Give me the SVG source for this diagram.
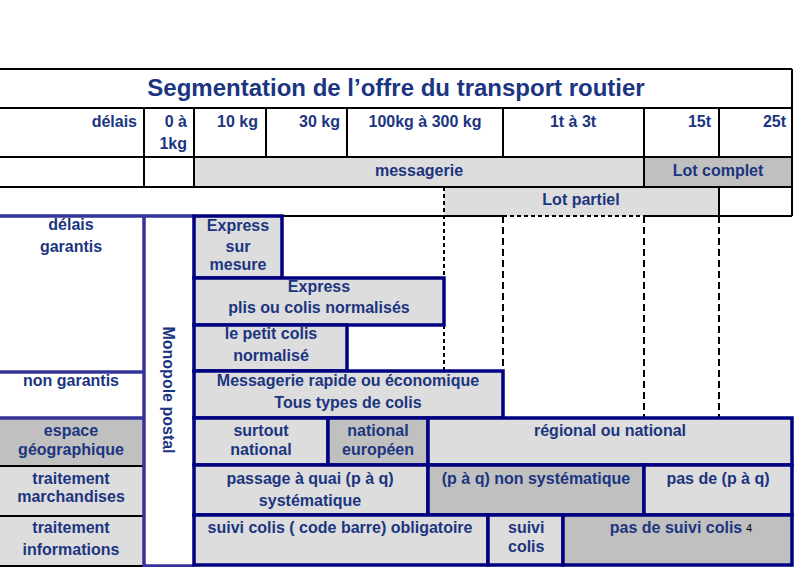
<svg xmlns="http://www.w3.org/2000/svg" width="794" height="567" viewBox="0 0 794 567">
<style>
.t{font-family:"Liberation Sans",Arial,sans-serif;font-weight:bold;font-size:16px;fill:#1B3580;text-anchor:middle}
.r{text-anchor:end}
.g1{fill:#DDDDDD}
.g2{fill:#C0C0C0}
.nb{stroke:#000080;stroke-width:3.5}
.bl{stroke:#000;stroke-width:2;fill:none}
.sb{stroke:#333399;stroke-width:3.5;fill:none}
.ds{stroke:#000;stroke-width:2;stroke-dasharray:7 4;fill:none}
.ds2{stroke:#000;stroke-width:2;stroke-dasharray:4 3;fill:none}
</style>
<rect width="794" height="567" fill="#fff"/>
<g id="header">
<rect class="g1" x="194" y="157" width="450" height="30"/>
<rect class="g2" x="644" y="157" width="148" height="30"/>
<rect class="g1" x="444" y="187" width="275" height="29"/>
<path class="bl" d="M0 69H792M0 108H792M0 157H792M0 187H792M282 216H503M644 216H792M792 69V216M719 187V216M144 108V187M194 108V187M266 108V157M347 108V157M503 108V157M644 108V187M719 108V157"/>
<text class="t" x="396" y="96" style="font-size:24px">Segmentation de l’offre du transport routier</text>
<text class="t r" x="137" y="127">délais</text>
<text class="t r" x="187" y="127">0 à</text>
<text class="t r" x="187" y="149">1kg</text>
<text class="t r" x="258" y="127">10 kg</text>
<text class="t r" x="340" y="127">30 kg</text>
<text class="t" x="425" y="127">100kg à 300 kg</text>
<text class="t" x="573" y="127">1t à 3t</text>
<text class="t r" x="711" y="127">15t</text>
<text class="t r" x="786" y="127">25t</text>
<text class="t" x="419" y="176">messagerie</text>
<text class="t" x="718" y="176">Lot complet</text>
<text class="t" x="581" y="205">Lot partiel</text>
</g>
<g id="connectors">
<path class="ds2" d="M444 187V278M444 325V371M503 216H644"/>
<path class="ds" d="M503 216V371M644 216V418M719 216V418"/>
</g>
<g id="left">
<rect class="g2" x="0" y="418" width="144" height="48"/>
<rect class="g1" x="0" y="466" width="144" height="100"/>
<path class="bl" d="M0 466H144M0 516H144M0 566H144"/>
<path class="sb" d="M0 216H194M0 372H144M0 418H144M144 216V567M144 566H194"/>
<text class="t" x="71" y="230">délais</text>
<text class="t" x="71" y="252">garantis</text>
<text class="t" x="71" y="386">non garantis</text>
<text class="t" x="71" y="436">espace</text>
<text class="t" x="71" y="455">géographique</text>
<text class="t" x="71" y="484">traitement</text>
<text class="t" x="71" y="502">marchandises</text>
<text class="t" x="71" y="533">traitement</text>
<text class="t" x="71" y="555">informations</text>
<text class="t" transform="translate(163 390) rotate(90)">Monopole postal</text>
</g>
<g id="express-sur-mesure">
<rect class="g1 nb" x="194" y="216" width="88" height="62"/>
<text class="t" x="238" y="231">Express</text>
<text class="t" x="238" y="252">sur</text>
<text class="t" x="238" y="270">mesure</text>
</g>
<g id="express-plis">
<rect class="g1 nb" x="194" y="278" width="250" height="47"/>
<text class="t" x="319" y="292">Express</text>
<text class="t" x="319" y="313">plis ou colis normalisés</text>
</g>
<g id="petit-colis">
<rect class="g1 nb" x="194" y="325" width="153" height="46"/>
<text class="t" x="271" y="339">le petit colis</text>
<text class="t" x="271" y="361">normalisé</text>
</g>
<g id="messagerie-rapide">
<rect class="g1 nb" x="194" y="371" width="309" height="47"/>
<text class="t" x="348" y="386">Messagerie rapide ou économique</text>
<text class="t" x="348" y="408">Tous types de colis</text>
</g>
<g id="surtout-national">
<rect class="g1 nb" x="194" y="418" width="134" height="47"/>
<text class="t" x="261" y="436">surtout</text>
<text class="t" x="261" y="455">national</text>
</g>
<g id="national-europeen">
<rect class="g2 nb" x="328" y="418" width="100" height="47"/>
<text class="t" x="378" y="436">national</text>
<text class="t" x="378" y="455">européen</text>
</g>
<g id="regional">
<rect class="g1 nb" x="428" y="418" width="364" height="47"/>
<text class="t" x="610" y="436">régional ou national</text>
</g>
<g id="passage-quai">
<rect class="g1 nb" x="194" y="465" width="234" height="50"/>
<text class="t" x="310" y="484">passage à quai (p à q)</text>
<text class="t" x="310" y="506">systématique</text>
</g>
<g id="non-systematique">
<rect class="g2 nb" x="428" y="465" width="216" height="50"/>
<text class="t" x="536" y="484">(p à q) non systématique</text>
</g>
<g id="pas-pq">
<rect class="g1 nb" x="644" y="465" width="148" height="50"/>
<text class="t" x="718" y="484">pas de (p à q)</text>
</g>
<g id="suivi-obligatoire">
<rect class="g1 nb" x="194" y="515" width="294" height="50"/>
<text class="t" x="340" y="533">suivi colis ( code barre) obligatoire</text>
</g>
<g id="suivi-colis">
<rect class="g1 nb" x="488" y="515" width="75" height="50"/>
<text class="t" x="508" y="533" style="text-anchor:start">suivi</text>
<text class="t" x="508" y="552" style="text-anchor:start">colis</text>
</g>
<g id="pas-suivi">
<rect class="g2 nb" x="563" y="515" width="229" height="50"/>
<text class="t" x="676" y="533">pas de suivi colis</text>
<text x="746" y="532" style="font-family:'Liberation Sans',Arial,sans-serif;font-size:11px;fill:#000">4</text>
</g>
</svg>
